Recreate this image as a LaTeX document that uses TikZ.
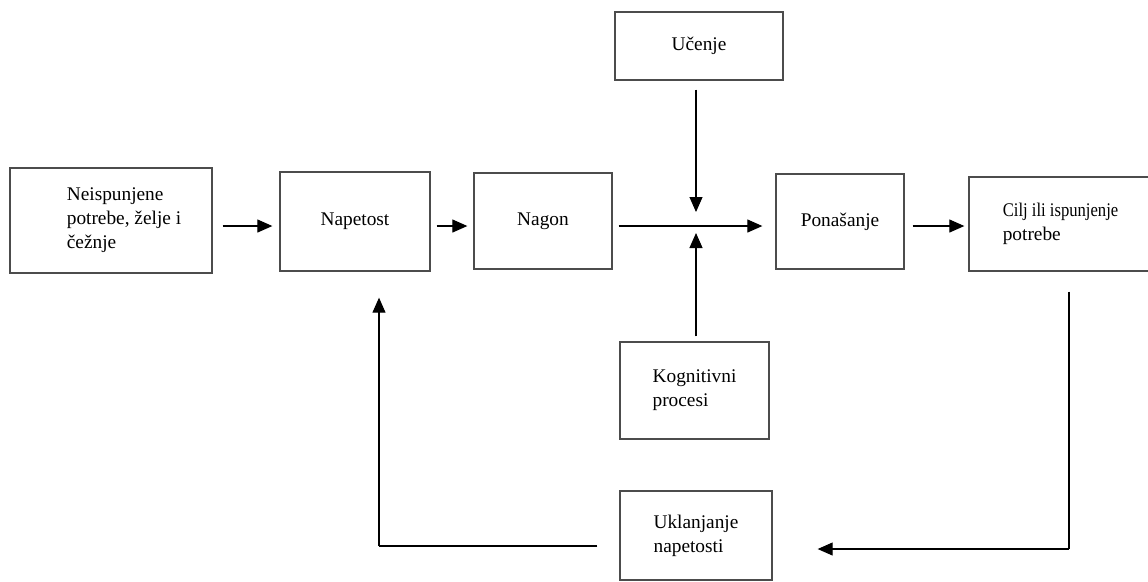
\documentclass[tikz,border=0pt]{standalone}
\usepackage{fontspec}
\setmainfont{Liberation Serif}
\usetikzlibrary{arrows.meta}

\tikzset{
  box/.style={rectangle, draw=black!70, line width=0.75pt, align=left, inner sep=0pt,
    font=\fontsize{11}{13.6}\selectfont},
  arr/.style={-{Triangle[length=0.3cm, width=0.26cm]}, line width=0.6pt},
  plain/.style={line width=0.6pt}
}
\newcommand{\ind}{\hspace*{0.52cm}}

\begin{document}
\begin{tikzpicture}
         \useasboundingbox (0,0) rectangle (22.96,-11.62);
         \clip (0,0) rectangle (22.96,-11.62);

         \node [box, minimum width=4.04cm, minimum height=2.1cm]  (need)    at (2.22,-4.41)  {\ind Neispunjene\\\ind potrebe, želje i\\\ind čežnje};
         \node [box, minimum width=3.0cm,  minimum height=1.98cm] (tension) at (7.1,-4.43)   {Napetost};
         \node [box, minimum width=2.76cm, minimum height=1.92cm] (drive)   at (10.86,-4.42) {Nagon};
         \node [box, minimum width=2.56cm, minimum height=1.9cm]  (behav)   at (16.8,-4.43)  {Ponašanje};
         \node [box, minimum width=3.66cm, minimum height=1.88cm] (goal)    at (21.21,-4.48) {\scalebox{0.86}[1]{Cilj ili ispunjenje}\\potrebe};
         \node [box, minimum width=3.36cm, minimum height=1.36cm] (learn)   at (13.98,-0.92) {Učenje};
         \node [box, minimum width=2.98cm, minimum height=1.94cm] (cog)     at (13.89,-7.81) {Kognitivni\\procesi};
         \node [box, minimum width=3.04cm, minimum height=1.78cm] (relief)  at (13.92,-10.71) {Uklanjanje\\napetosti};

         \coordinate (j)   at (13.92,-4.52);
         \coordinate (fbl) at (7.58,-10.92);
         \coordinate (fbr) at (21.38,-10.98);

  		 \draw [arr, shorten <=0.2cm,  shorten >=0.14cm] (need.east |- j) -- (tension.west |- j);
  		 \draw [arr, shorten <=0.12cm, shorten >=0.12cm] (tension.east |- j) -- (drive.west |- j);
  		 \draw [arr, shorten <=0.12cm, shorten >=0.26cm] (drive.east |- j) -- (behav.west |- j);
  		 \draw [arr, shorten <=0.16cm, shorten >=0.08cm] (behav.east |- j) -- (goal.west |- j);
  		 \draw [arr, shorten <=0.18cm, shorten >=0.28cm] (learn.south -| j) -- (j);
  		 \draw [arr, shorten <=0.1cm,  shorten >=0.14cm] (cog.north -| j) -- (j);

  		 \draw [plain, shorten <=0.44cm] (relief.west |- fbl) -- (fbl);
  		 \draw [arr, shorten >=0.52cm] (fbl) -- (fbl |- tension.south);
  		 \draw [plain, shorten <=0.4cm] (fbr |- goal.south) -- (fbr);
  		 \draw [arr, shorten >=0.9cm] (fbr) -- (relief.east |- fbr);
\end{tikzpicture}
\end{document}
